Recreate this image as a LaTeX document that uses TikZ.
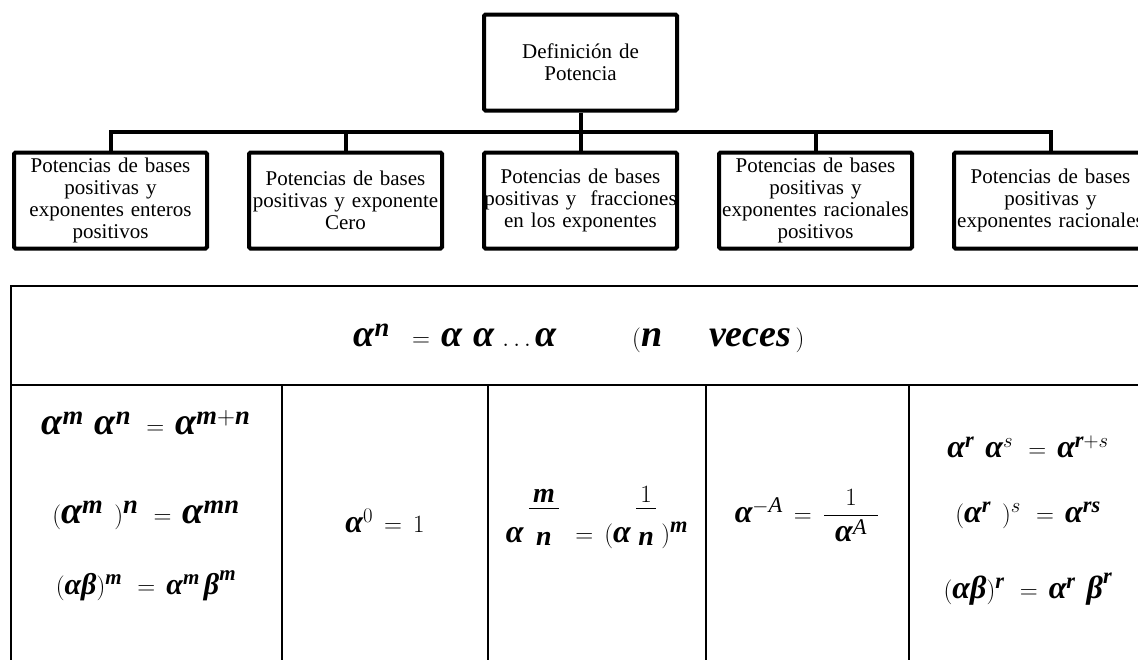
\documentclass[tikz,border=0pt]{standalone}
\usepackage{amsmath}
\usepackage{fontspec}
\setmainfont{Liberation Serif}
\DeclareSymbolFont{operators}{TU}{\rmdefault}{m}{n}
\usetikzlibrary{positioning}

\newcommand{\bi}[1]{\text{\bfseries\itshape #1}}
\newcommand{\ancho}[1]{\makebox[\linewidth]{#1}}
\newcommand{\expo}[2]{\raisebox{27pt}{\fontsize{40}{40}\selectfont
  $\genfrac{}{}{1pt}{1}{\,\rule[-5pt]{0pt}{5pt}#1\,}{\rule{0pt}{35pt}#2}$}}
\AtBeginDocument{\thickmuskip=8mu\relax\medmuskip=5mu\relax}

\tikzset{
  caja/.style={draw, line width=4pt, rounded corners=1.5pt, minimum width=193pt,
    minimum height=96pt, inner sep=0pt, text width=185pt, align=center,
    font=\fontsize{21}{22}\selectfont},
  rama/.style={line width=4pt},
  regla/.style={line width=2pt},
  formula/.style={anchor=base, inner sep=0pt, font=\fontsize{32}{34}\selectfont},
  grande/.style={formula, font=\fontsize{38}{40}\selectfont},
  chica/.style={formula, font=\fontsize{30}{32}\selectfont},
}

\begin{document}
\begin{tikzpicture}[x=1pt,y=-1pt,node distance=38pt]

    \useasboundingbox (0,0) rectangle (1138,659);

    % concept boxes
    \node[caja] (def) at (580.5,62.5) {Definición de\\Potencia};
    \node[caja, below=of def] (p3) {Potencias de bases\\\ancho{positivas y\ \ fracciones}\\en los exponentes};
    \node[caja, left=of p3] (p2) {Potencias de bases\\\ancho{positivas y exponente}\\Cero};
    \node[caja, left=of p2] (p1) {Potencias de bases\\positivas y\\exponentes enteros\\positivos};
    \node[caja, right=of p3] (p4) {Potencias de bases\\positivas y\\\ancho{exponentes racionales}\\positivos};
    \node[caja, right=of p4] (p5) {Potencias de bases\\positivas y\\\ancho{exponentes racionales}};

    % connectors
    \coordinate (barra) at (0,132);
    \draw[rama] (def.south) -- (def.south |- barra);
    \draw[rama] (p1.north) |- (barra -| p5.north) -- (p5.north);
    \foreach \n in {p2,p3,p4}
      \draw[rama] (\n.north) -- (\n.north |- barra);

    % table
    \draw[regla] (1150,286) -- (11,286) -- (11,670);
    \draw[regla] (11,385) -- (1150,385);
    \foreach \x in {282,488,706,909}
      \draw[regla] (\x,385) -- (\x,670);

    % formulas
    \node[grande] (defn) at (579,346)
      {$\bi{α}^{\bi{n}}\; = \bi{α}\;\bi{α}\,\ldots\bi{α}\hspace{76pt}(\bi{n}\hspace{47pt}\bi{veces}\,)$};

    \node[grande] (prod) at (146,434) {$\bi{α}^{\bi{m}}\;\bi{α}^{\bi{n}}\, = \bi{α}^{\bi{m}+\bi{n}}$};
    \node[grande] (pot) at (146,523) {$(\bi{α}^{\bi{m}}\;)^{\bi{n}}\, = \bi{α}^{\bi{mn}}$};
    \node[chica] (dist) at (146,594) {$(\bi{α}\bi{β})^{\bi{m}}\, = \bi{α}^{\bi{m}}\,\bi{β}^{\bi{m}}$};

    \node[formula] (cero) at (385,532) {$\bi{α}^{0} = 1$};

    \node[formula] (frac) at (597,542)
      {$\bi{α}\,\expo{\bi{m}}{\bi{n}}\, = (\bi{α}\,\expo{1}{\bi{n}}\,)^{\bi{m}}$};

    \node[formula] (neg) at (807,522) {$\bi{α}^{-\textit{A}} = \dfrac{1}{\;\bi{α}^{\textit{A}}\;}$};

    \node[formula] (rprod) at (1028,457) {$\bi{α}^{\bi{r}}\;\bi{α}^{s}\, = \bi{α}^{\bi{r}+s}$};
    \node[formula] (rpot) at (1028,522) {$(\bi{α}^{\bi{r}}\;)^{s}\, = \bi{α}^{\bi{rs}}$};
    \node[formula] (rdist) at (1028,598) {$(\bi{α}\bi{β})^{\bi{r}}\, = \bi{α}^{\bi{r}}\;\bi{β}^{\bi{r}}$};

\end{tikzpicture}
\end{document}
